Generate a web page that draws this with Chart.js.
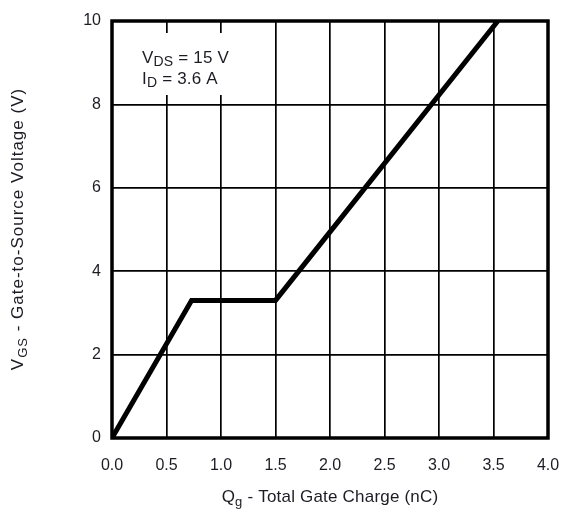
<!DOCTYPE html>
<html>
<head>
<meta charset="utf-8">
<script src="https://cdn.jsdelivr.net/npm/chart.js@4.4.0/dist/chart.umd.min.js"></script>
<style>
  html, body { margin: 0; padding: 0; background: #fff; }
  #wrap { width: 563px; height: 515px; }
</style>
</head>
<body>
<div id="wrap"><canvas id="c"></canvas></div>
<script>
// Gate charge curve: linear rise, Miller plateau, then second rise
const gateCharge = [0, 0.73, 1.50, 3.54];   // Qg (nC)
const gateVoltage = [0, 3.3, 3.3, 10];      // VGS (V)

const xTicks = [0, 0.5, 1.0, 1.5, 2.0, 2.5, 3.0, 3.5, 4.0];
const yTicks = [0, 2, 4, 6, 8, 10];

// Text runs: [text, isSubscript]
const conditionLines = [
  [['V', false], ['DS', true], [' = 15 V', false]],
  [['I', false], ['D', true], [' = 3.6 A', false]]
];
const xTitle = [['Q', false], ['g', true], [' - Total Gate Charge (nC)', false]];
const yTitle = [['V', false], ['GS', true], [' - Gate-to-Source Voltage (V)', false]];

const FONT = '"Liberation Sans", Arial, sans-serif';
const TEXT_COLOR = '#1c1c24';

function setFont(ctx, size, spacing) {
  ctx.font = size + 'px ' + FONT;
  ctx.letterSpacing = (spacing || 0) + 'px';
}

function runWidth(ctx, runs, size, subSize, spacing) {
  let w = 0;
  for (const [t, sub] of runs) {
    setFont(ctx, sub ? subSize : size, spacing);
    w += ctx.measureText(t).width;
  }
  return w;
}

function drawRuns(ctx, runs, x, y, size, subSize, subDrop, spacing) {
  let cx = x;
  ctx.textAlign = 'left';
  ctx.textBaseline = 'alphabetic';
  for (const [t, sub] of runs) {
    setFont(ctx, sub ? subSize : size, spacing);
    ctx.fillText(t, cx, sub ? y + subDrop : y);
    cx += ctx.measureText(t).width;
  }
}

const decorations = {
  id: 'decorations',
  beforeDatasetsDraw(chart) {
    const { ctx, chartArea: a } = chart;
    ctx.save();
    // conditions label with a white backing box over the grid
    ctx.fillStyle = '#fff';
    ctx.fillRect(a.left + 24, a.top + 12, 98, 62);
    ctx.fillStyle = TEXT_COLOR;
    drawRuns(ctx, conditionLines[0], a.left + 30, a.top + 42, 17, 14, 3, 0.2);
    drawRuns(ctx, conditionLines[1], a.left + 30, a.top + 63, 17, 14, 3, 0.2);
    ctx.restore();
  },
  afterDatasetsDraw(chart) {
    const { ctx, chartArea: a } = chart;
    ctx.save();
    // heavy frame around plot area
    ctx.strokeStyle = '#000';
    ctx.lineWidth = 3.5;
    ctx.strokeRect(a.left, a.top, a.right - a.left, a.bottom - a.top);

    ctx.fillStyle = TEXT_COLOR;
    // x axis title
    const xw = runWidth(ctx, xTitle, 17, 13, 0.2);
    drawRuns(ctx, xTitle, (a.left + a.right) / 2 - xw / 2, 502, 17, 13, 4, 0.2);
    // y axis title (rotated)
    const yw = runWidth(ctx, yTitle, 17, 13, 1);
    ctx.translate(23, 229);
    ctx.rotate(-Math.PI / 2);
    drawRuns(ctx, yTitle, -yw / 2, 0, 17, 13, 4, 1);
    ctx.restore();
  }
};

new Chart(document.getElementById('c'), {
  type: 'line',
  data: {
    datasets: [{
      data: gateCharge.map((q, i) => ({ x: q, y: gateVoltage[i] })),
      borderColor: '#000',
      borderWidth: 5,
      pointRadius: 0,
      tension: 0,
      fill: false
    }]
  },
  options: {
    responsive: true,
    maintainAspectRatio: false,
    animation: false,
    events: [],
    layout: { padding: { left: 0, right: 15, top: 21, bottom: 0 } },
    plugins: { legend: { display: false }, tooltip: { enabled: false }, title: { display: false } },
    scales: {
      x: {
        type: 'linear',
        min: 0, max: 4,
        afterBuildTicks: s => { s.ticks = xTicks.map(v => ({ value: v })); },
        afterFit: s => { s.height = 77; s.paddingLeft = 0; s.paddingRight = 0; },
        ticks: {
          callback: v => Number(v).toFixed(1),
          font: { family: FONT, size: 16 },
          color: TEXT_COLOR,
          padding: 18,
          maxRotation: 0
        },
        grid: { color: '#000', lineWidth: 1.7, drawTicks: false },
        border: { display: false }
      },
      y: {
        min: 0, max: 10,
        afterBuildTicks: s => { s.ticks = yTicks.map(v => ({ value: v })); },
        afterFit: s => { s.width = 112; s.paddingTop = 0; s.paddingBottom = 0; },
        ticks: {
          callback: v => String(v),
          font: { family: FONT, size: 16 },
          color: TEXT_COLOR,
          padding: 11
        },
        grid: { color: '#000', lineWidth: 1.7, drawTicks: false },
        border: { display: false }
      }
    }
  },
  plugins: [decorations]
});
</script>
</body>
</html>
